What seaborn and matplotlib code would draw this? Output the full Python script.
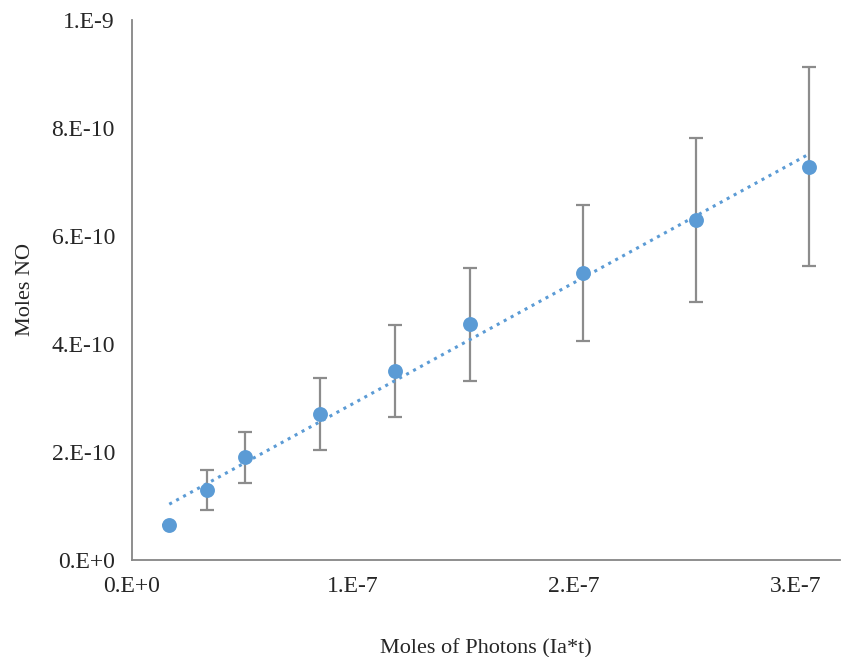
import numpy as np
import pandas as pd
import seaborn as sns
import matplotlib.pyplot as plt

# data
photons = [1.7e-8, 3.4e-8, 5.1e-8, 8.5e-8, 1.19e-7, 1.53e-7, 2.04e-7, 2.55e-7, 3.06e-7]
moles_no = [0.65e-10, 1.29e-10, 1.90e-10, 2.70e-10, 3.50e-10, 4.36e-10, 5.31e-10, 6.29e-10, 7.28e-10]
err = [0.0, 0.37e-10, 0.47e-10, 0.67e-10, 0.85e-10, 1.05e-10, 1.25e-10, 1.52e-10, 1.84e-10]

x_ticks = [0, 1e-7, 2e-7, 3e-7]
x_labels = ["0.E+0", "1.E-7", "2.E-7", "3.E-7"]
y_ticks = [0, 2e-10, 4e-10, 6e-10, 8e-10, 1e-9]
y_labels = ["0.E+0", "2.E-10", "4.E-10", "6.E-10", "8.E-10", "1.E-9"]

df = pd.DataFrame({"photons": photons, "moles": moles_no, "err": err})

sns.set_style("white")
plt.rcParams["font.family"] = ["Liberation Serif", "DejaVu Serif"]

blue = "#5B9BD5"
fig = plt.figure(figsize=(8.44, 6.57), dpi=100)
ax = fig.add_axes([0.156, 0.148, 0.839, 0.822])

ax.errorbar(df["photons"], df["moles"], yerr=df["err"], fmt="none",
            ecolor="#8C8C8C", elinewidth=1.6, capsize=5, capthick=1.6, zorder=2)
sns.regplot(data=df, x="photons", y="moles", ax=ax, ci=None, scatter=False,
            line_kws={"color": blue, "ls": (0, (1, 1.6)), "lw": 2.2, "zorder": 3})
sns.scatterplot(data=df, x="photons", y="moles", ax=ax, color=blue, s=115,
                edgecolor=blue, linewidth=0, zorder=4)

ax.set_xlim(0, 3.2e-7)
ax.set_ylim(0, 1e-9)
ax.set_xticks(x_ticks)
ax.set_xticklabels(x_labels, fontsize=17)
ax.set_yticks(y_ticks)
ax.set_yticklabels(y_labels, fontsize=17)
ax.tick_params(length=0, pad=12)
ax.tick_params(axis="y", pad=12)

for side in ["top", "right"]:
    ax.spines[side].set_visible(False)
for side in ["left", "bottom"]:
    ax.spines[side].set_color("#868686")
    ax.spines[side].set_linewidth(1.3)

ax.set_xlabel("Moles of Photons (Ia*t)", fontsize=16, labelpad=30)
ax.set_ylabel("Moles NO", fontsize=16, labelpad=12)

fig.savefig("out.png", dpi=100)
